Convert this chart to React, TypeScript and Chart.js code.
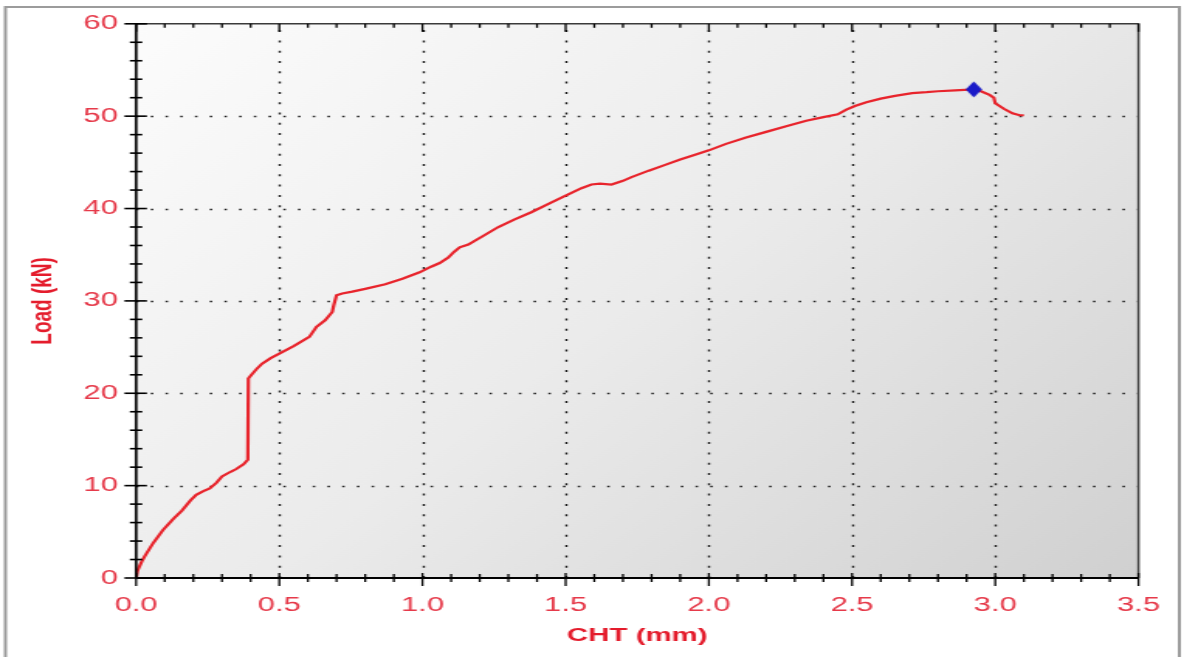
import React, { useEffect, useRef } from 'react';
import { Chart, registerables } from 'chart.js';

Chart.register(...registerables);

// ---- data ----
const chtValues = [
  0, 0.005, 0.02, 0.031, 0.06, 0.094, 0.13, 0.16, 0.19, 0.21, 0.235, 0.257, 0.28, 0.3, 0.33, 0.35, 0.375, 0.39,
  0.392, 0.4, 0.42, 0.44, 0.47, 0.5, 0.55, 0.605, 0.63, 0.66, 0.685, 0.69, 0.7, 0.72, 0.755, 0.8, 0.87, 0.93,
  0.99, 1.03, 1.06, 1.09, 1.11, 1.13, 1.16, 1.21, 1.265, 1.32, 1.38, 1.44, 1.5, 1.555, 1.59, 1.62, 1.66, 1.7,
  1.73, 1.79, 1.845, 1.9, 1.96, 2.0, 2.06, 2.13, 2.2, 2.27, 2.34, 2.4, 2.45, 2.48, 2.51, 2.55, 2.6, 2.65, 2.71,
  2.76, 2.8, 2.86, 2.925, 2.95, 2.98, 2.995, 3.0, 3.03, 3.06, 3.085, 3.1,
];
const loadValues = [
  0, 0.8, 1.8, 2.4, 3.8, 5.2, 6.4, 7.3, 8.4, 9.0, 9.4, 9.7, 10.3, 11.0, 11.5, 11.8, 12.3, 12.8,
  21.6, 21.9, 22.6, 23.2, 23.8, 24.3, 25.1, 26.1, 27.2, 27.9, 28.8, 29.5, 30.6, 30.8, 31.0, 31.3, 31.8, 32.4,
  33.1, 33.7, 34.1, 34.7, 35.3, 35.8, 36.1, 37.0, 38.0, 38.8, 39.6, 40.5, 41.4, 42.2, 42.6, 42.7, 42.6, 43.0,
  43.4, 44.1, 44.7, 45.3, 45.9, 46.3, 47.0, 47.7, 48.3, 48.9, 49.5, 49.9, 50.2, 50.7, 51.1, 51.5, 51.9, 52.2, 52.5,
  52.6, 52.7, 52.8, 52.9, 52.7, 52.3, 52.0, 51.4, 50.8, 50.3, 50.1, 50.1,
];
const peakCht = [2.925];
const peakLoad = [52.9];
const xTickLabels = ['0.0', '0.5', '1.0', '1.5', '2.0', '2.5', '3.0', '3.5'];
const yTickLabels = ['0', '10', '20', '30', '40', '50', '60'];
const xTitle = 'CHT (mm)';
const yTitle = 'Load (kN)';

// ---- layout / style ----
const CW = 764;
const CH = 657;
const STRETCH = 1184 / CW;
const FONT = "'Liberation Sans', Arial, sans-serif";
const TICK_COLOR = '#e63a4a';
const TITLE_COLOR = '#e41c2c';

const framePlugin = {
  id: 'framePlugin',
  beforeDraw(chart: any) {
    const { ctx, chartArea: a } = chart;
    ctx.save();
    ctx.fillStyle = '#ffffff';
    ctx.fillRect(0, 0, chart.width, chart.height);
    ctx.strokeStyle = '#9c9c9c';
    ctx.lineWidth = 2;
    ctx.beginPath();
    ctx.moveTo(3.5, chart.height);
    ctx.lineTo(3.5, 7);
    ctx.lineTo(761, 7);
    ctx.lineTo(761, chart.height);
    ctx.stroke();
    const g = ctx.createLinearGradient(a.left, a.top, a.right, a.bottom);
    g.addColorStop(0, '#fcfcfc');
    g.addColorStop(0.5, '#ebebeb');
    g.addColorStop(1, '#d0d0d0');
    ctx.fillStyle = g;
    ctx.fillRect(a.left, a.top, a.right - a.left, a.bottom - a.top);
    ctx.restore();
  },
  beforeDatasetsDraw(chart: any) {
    const { ctx, chartArea: a, scales } = chart;
    const xs = scales.x;
    const ys = scales.y;
    ctx.save();
    ctx.strokeStyle = '#1e1e1e';
    // vertical dotted grid
    ctx.lineWidth = 1.4;
    ctx.setLineDash([2, 8.3]);
    for (let i = 1; i < 7; i++) {
      const px = Math.round(xs.getPixelForValue(i * 0.5)) + 0.5;
      ctx.beginPath();
      ctx.moveTo(px, a.bottom);
      ctx.lineTo(px, a.top);
      ctx.stroke();
    }
    // horizontal dotted grid
    ctx.lineWidth = 1.7;
    ctx.setLineDash([1.6, 7.9]);
    for (let i = 1; i < 6; i++) {
      const py = Math.round(ys.getPixelForValue(i * 10)) + 0.5;
      ctx.beginPath();
      ctx.moveTo(a.left, py);
      ctx.lineTo(a.right, py);
      ctx.stroke();
    }
    ctx.restore();
  },
  afterDatasetsDraw(chart: any) {
    const { ctx, chartArea: a, scales } = chart;
    const xs = scales.x;
    const ys = scales.y;
    ctx.save();
    ctx.setLineDash([]);
    // top & right border
    ctx.strokeStyle = '#3a3a3a';
    ctx.lineWidth = 1.5;
    ctx.beginPath();
    ctx.moveTo(a.left, a.top);
    ctx.lineTo(a.right, a.top);
    ctx.lineTo(a.right, a.bottom);
    ctx.stroke();
    // left & bottom axes
    ctx.strokeStyle = '#000000';
    ctx.lineWidth = 1.7;
    ctx.beginPath();
    ctx.moveTo(a.left, a.top);
    ctx.lineTo(a.left, a.bottom);
    ctx.stroke();
    ctx.lineWidth = 2;
    ctx.beginPath();
    ctx.moveTo(a.left, a.bottom);
    ctx.lineTo(a.right, a.bottom);
    ctx.stroke();
    // y ticks (every 2 kN, major every 10)
    ctx.lineWidth = 1.6;
    for (let v = 0; v <= 60; v += 2) {
      const py = ys.getPixelForValue(v);
      const major = v % 10 === 0;
      const l = major ? 7.5 : 4;
      const r = major ? 7 : 4;
      ctx.beginPath();
      ctx.moveTo(a.left - l, py);
      ctx.lineTo(a.left + r, py);
      ctx.stroke();
    }
    // x ticks (every 0.1 mm, major every 0.5)
    ctx.lineWidth = 1.3;
    for (let i = 0; i <= 35; i++) {
      const px = xs.getPixelForValue(i / 10);
      const major = i % 5 === 0;
      ctx.beginPath();
      ctx.moveTo(px, a.bottom - (major ? 5 : 4));
      ctx.lineTo(px, a.bottom + (major ? 8 : 4));
      ctx.stroke();
      // top edge ticks
      ctx.beginPath();
      ctx.moveTo(px, a.top);
      ctx.lineTo(px, a.top + (major ? 8 : 4));
      ctx.stroke();
    }
    ctx.restore();
  },
};

function makeDiamond(): HTMLCanvasElement {
  const c = document.createElement('canvas');
  c.width = 11;
  c.height = 17;
  const g = c.getContext('2d')!;
  g.fillStyle = '#1a1ac8';
  g.beginPath();
  g.moveTo(5.5, 0.5);
  g.lineTo(10.8, 8.5);
  g.lineTo(5.5, 16.5);
  g.lineTo(0.2, 8.5);
  g.closePath();
  g.fill();
  return c;
}

export default function App() {
  const canvasRef = useRef<HTMLCanvasElement | null>(null);

  useEffect(() => {
    document.body.style.margin = '0';
    document.body.style.overflow = 'hidden';
    const canvas = canvasRef.current;
    if (!canvas) return;
    const diamond = makeDiamond();
    const chart = new Chart(canvas, {
      type: 'line',
      data: {
        datasets: [
          {
            label: 'Peak',
            data: peakCht.map((x, i) => ({ x, y: peakLoad[i] })),
            showLine: false,
            pointStyle: diamond as any,
            pointRadius: 8,
            order: 0,
          },
          {
            label: 'Load',
            data: chtValues.map((x, i) => ({ x, y: loadValues[i] })),
            borderColor: '#e8242c',
            borderWidth: 2.2,
            pointRadius: 0,
            tension: 0,
            fill: false,
            order: 1,
          },
        ],
      },
      options: {
        animation: false,
        responsive: true,
        maintainAspectRatio: false,
        layout: { padding: { top: 21, right: 26.4, bottom: 0, left: 0 } },
        plugins: { legend: { display: false }, tooltip: { enabled: false } },
        scales: {
          x: {
            type: 'linear',
            min: 0,
            max: 3.5,
            grid: { display: false, drawTicks: false },
            border: { display: false },
            ticks: {
              stepSize: 0.5,
              autoSkip: false,
              maxRotation: 0,
              padding: 15.5,
              color: TICK_COLOR,
              font: { family: FONT, size: 20 },
              callback: (_v: any, i: number) => xTickLabels[i],
            },
            title: {
              display: true,
              text: xTitle,
              color: TITLE_COLOR,
              font: { family: FONT, size: 19, weight: 'bold' },
              padding: { top: 0, bottom: 10 },
            },
            afterFit: (s: any) => {
              s.height = 79;
            },
          },
          y: {
            type: 'linear',
            min: 0,
            max: 60,
            grid: { display: false, drawTicks: false },
            border: { display: false },
            ticks: {
              stepSize: 10,
              autoSkip: false,
              padding: 11.8,
              color: TICK_COLOR,
              font: { family: FONT, size: 20 },
              callback: (_v: any, i: number) => yTickLabels[i],
            },
            title: {
              display: true,
              text: yTitle,
              color: TITLE_COLOR,
              font: { family: FONT, size: 19, weight: 'bold' },
              padding: { top: 16.5, bottom: 0 },
            },
            afterFit: (s: any) => {
              s.width = 87.8;
            },
          },
        },
      },
      plugins: [framePlugin],
    } as any);
    return () => chart.destroy();
  }, []);

  return (
    <div
      style={{
        width: CW,
        height: CH,
        transform: `scaleX(${STRETCH})`,
        transformOrigin: '0 0',
        position: 'relative',
      }}
    >
      <canvas ref={canvasRef} />
    </div>
  );
}
